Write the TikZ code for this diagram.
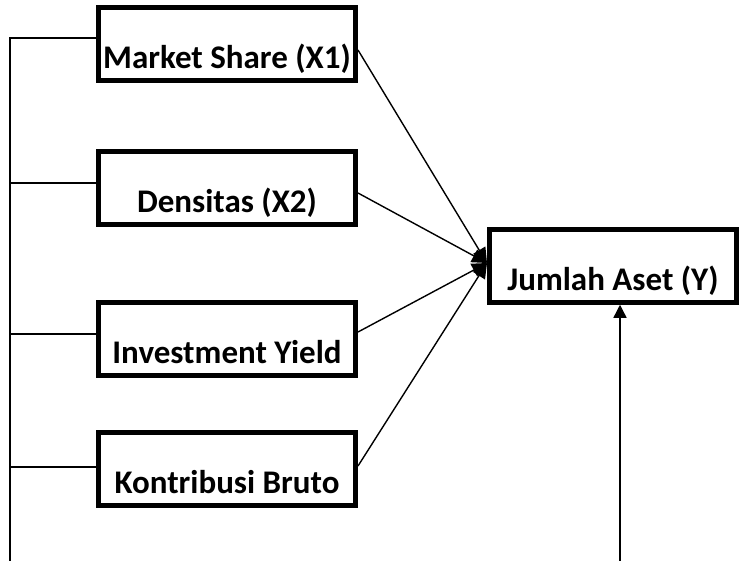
\documentclass[tikz,border=0pt]{standalone}
\usepackage{fontspec}
\setmainfont{Carlito}
\usetikzlibrary{arrows.meta,calc}

\begin{document}
\begin{tikzpicture}[x=1pt, y=-1pt,
  vbox/.style={draw, line width=5pt, outer sep=2.5pt, inner sep=0pt, minimum width=257pt,
    text height=61pt, text depth=11.5pt, font=\fontsize{33}{38}\selectfont\bfseries},
  link/.style={line width=1.4pt},
  tip/.style={-{Triangle[length=15pt,width=14pt]}}]
\useasboundingbox (0,0) rectangle (739,560);
% Variabel X
\node[vbox] (ms) at (227,44) {Market Share (X1)};
\node[vbox] (ds) at (227,188) {Densitas (X2)};
\node[vbox] (iy) at (227,339) {Investment Yield};
\node[vbox] (kb) at (227,469) {Kontribusi Bruto};
% Variabel Y
\node[vbox, minimum width=247pt] (ja) at (613,266) {Jumlah Aset (Y)};
% Garis ke Y
\draw[link, tip] ([yshift=-6pt]ms.east) -- ([yshift=3pt]ja.west);
\draw[link, tip] ([yshift=-5pt]ds.east) -- ([yshift=3pt]ja.west);
\draw[link, tip] ([yshift=7pt]iy.east) -- ([yshift=3pt]ja.west);
\draw[link, tip] ([yshift=3pt]kb.east) -- ([yshift=3pt]ja.west);
% Garis kiri
\coordinate (kiri) at (10,562);
\coordinate (kanan) at (620,562);
\draw[link] (kiri) |- ([yshift=6pt]ms.west);
\draw[link] ([yshift=5pt]ds.west) -- ([yshift=5pt]ds.west -| kiri);
\draw[link] ([yshift=5pt]iy.west) -- ([yshift=5pt]iy.west -| kiri);
\draw[link] ([yshift=2pt]kb.west) -- ([yshift=2pt]kb.west -| kiri);
% Garis bawah
\draw[link, -{Triangle[length=13pt,width=13pt]}] (kanan) -- (kanan |- ja.south);
\end{tikzpicture}
\end{document}
